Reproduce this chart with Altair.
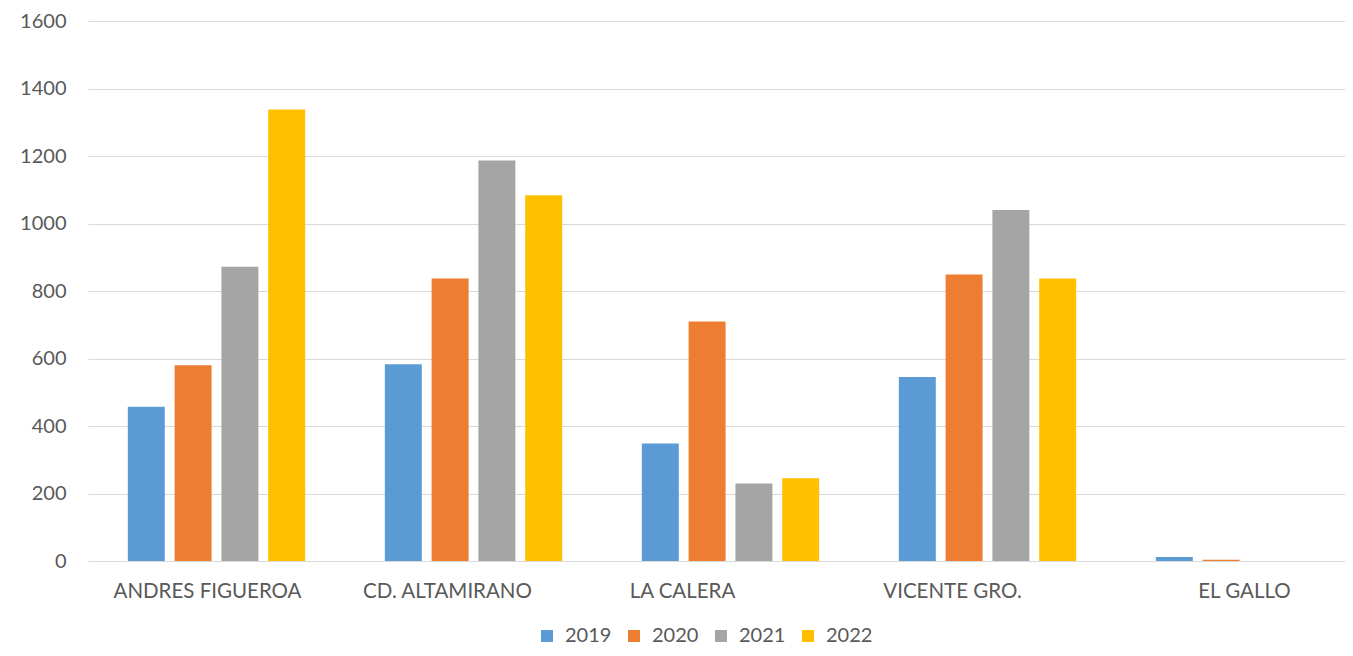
import altair as alt
import pandas as pd

categories = ["ANDRES FIGUEROA", "CD. ALTAMIRANO", "LA CALERA", "VICENTE GRO.", "EL GALLO"]
years = ["2019", "2020", "2021", "2022"]
v2019 = [457, 583, 348, 545, 12]
v2020 = [580, 837, 710, 849, 4]
v2021 = [872, 1187, 230, 1040, 0]
v2022 = [1338, 1084, 245, 837, 0]
colors = ["#5B9BD5", "#ED7D31", "#A5A5A5", "#FFC000"]
label_shift = [-9, -26, -48, -35, 0]

rows = []
for yr, vals in zip(years, [v2019, v2020, v2021, v2022]):
    for c, v in zip(categories, vals):
        rows.append({"cat": c, "year": yr, "value": v})
df = pd.DataFrame(rows)

FONT = "Lato"
GRAY = "#595959"

label_offset = {
    "condition": [
        {"test": f"datum.value === '{c}'", "value": s}
        for c, s in zip(categories, label_shift) if s != 0
    ],
    "value": 0,
}

chart = alt.Chart(df).mark_bar().encode(
    x=alt.X("cat:N", sort=categories, title=None,
            scale=alt.Scale(range=[0, 1285], paddingInner=0.31, paddingOuter=0.155),
            axis=alt.Axis(labelAngle=0, ticks=False, domain=False, labelPadding=20,
                          labelFontSize=20.5, labelFont=FONT, labelColor=GRAY,
                          labelLimit=0, labelOffset=label_offset)),
    xOffset=alt.XOffset("year:N", sort=years,
                        scale=alt.Scale(paddingInner=0.21, paddingOuter=0)),
    y=alt.Y("value:Q", title=None,
            scale=alt.Scale(domain=[0, 1600], nice=False),
            axis=alt.Axis(values=list(range(0, 1601, 200)), format="d", ticks=False,
                          domain=False, labelPadding=22, labelFontSize=20,
                          labelFont=FONT, labelColor=GRAY,
                          gridColor="#D9D9D9", gridWidth=1)),
    color=alt.Color("year:N", sort=years, title=None,
                    scale=alt.Scale(domain=years, range=colors),
                    legend=alt.Legend(orient="none", legendX=449, legendY=605,
                                      direction="horizontal", symbolType="square",
                                      symbolSize=144, symbolStrokeWidth=0,
                                      labelFontSize=20, labelFont=FONT, labelColor=GRAY,
                                      labelOffset=8, columnPadding=12)),
).properties(
    width=1257, height=540,
    autosize=alt.AutoSizeParams(type="none"),
    padding={"left": 80, "top": 13, "right": 0, "bottom": 87},
).configure_view(stroke=None)

chart.save("out.html", embed_options={"renderer": "svg", "actions": False})
